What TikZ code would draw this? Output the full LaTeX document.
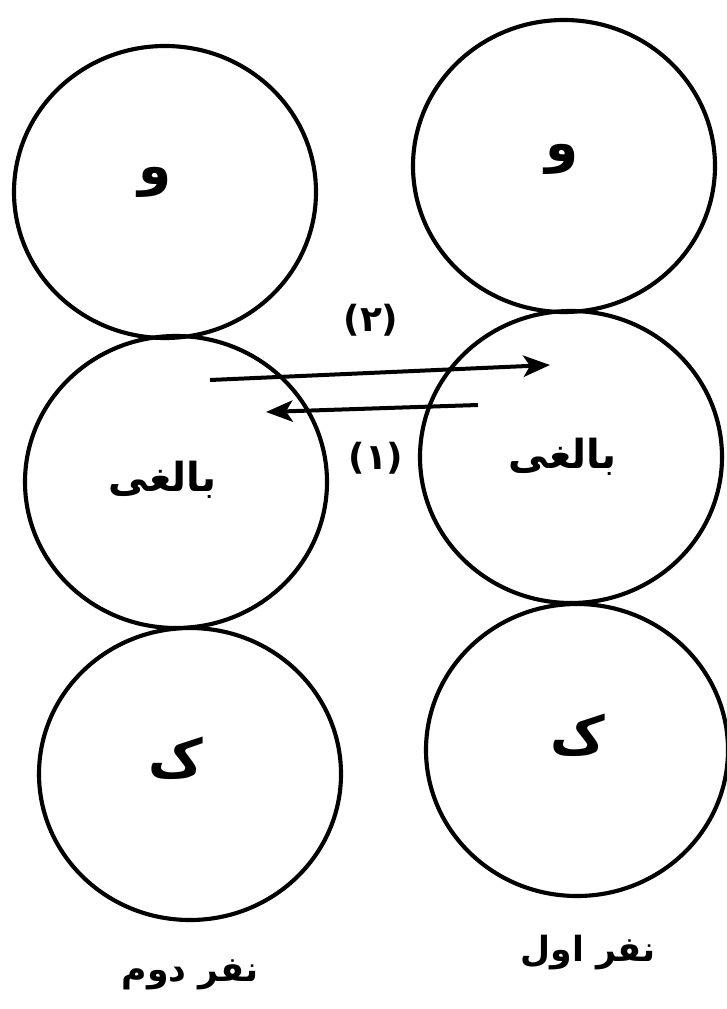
\documentclass[tikz,border=0pt]{standalone}
\usepackage{fontspec}
\usetikzlibrary{shapes.geometric,arrows.meta}
\newfontfamily\arabicfont[Script=Arabic]{DejaVu Sans}
\TeXXeTstate=1
\tikzset{
  circ/.style={ellipse, draw, line width=3.1pt, minimum width=226.5pt, minimum height=219pt, inner sep=0pt},
  lbl/.style={font=\arabicfont\bfseries, inner sep=0pt},
  big/.style={lbl, font=\arabicfont\bfseries\fontsize{26pt}{30pt}\selectfont},
  mid/.style={lbl, font=\arabicfont\bfseries\fontsize{30pt}{34pt}\selectfont},
  huge/.style={lbl, font=\arabicfont\bfseries\fontsize{40pt}{44pt}\selectfont},
  num/.style={lbl, font=\arabicfont\bfseries\fontsize{27pt}{31pt}\selectfont},
  arr/.style={line width=3pt, -{Stealth[length=20pt,width=16pt,inset=5pt]}}
}
\begin{document}
\begin{tikzpicture}[x=0.75pt,y=-0.75pt]
\useasboundingbox (0,0) rectangle (726,1009);
% circles
\node[circ] (lt) at (165,192) {};
\node[circ] (rt) at (564,166) {};
\node[circ] (lm) at (176,482) {};
\node[circ] (rm) at (571,457) {};
\node[circ] (lb) at (190,774) {};
\node[circ] (rb) at (577,750) {};
% texts
\node[huge] (tlt) at (155,182) {\beginR و\endR};
\node[huge] (trt) at (562,159) {\beginR و\endR};
\node[mid] (tlm) at (163,480) {\beginR بالغی\endR};
\node[mid] (trm) at (563,457) {\beginR بالغی\endR};
\node[huge] (tlb) at (176,758) {\beginR ک\endR};
\node[huge] (trb) at (578,735) {\beginR ک\endR};
\node[num] (n2) at (371,320) {(۲)};
\node[num] (n1) at (376,458) {(۱)};
\node[big] (p2) at (190,975) {\beginR نفر دوم\endR};
\node[big] (p1) at (588,953) {\beginR نفر اول\endR};
% arrows
\coordinate (a2s) at (210,380);
\coordinate (a2e) at (550,365);
\coordinate (a1s) at (478,405);
\coordinate (a1e) at (266,412);
\draw[arr] (a2s) -- (a2e);
\draw[arr] (a1s) -- (a1e);
\end{tikzpicture}
\end{document}
